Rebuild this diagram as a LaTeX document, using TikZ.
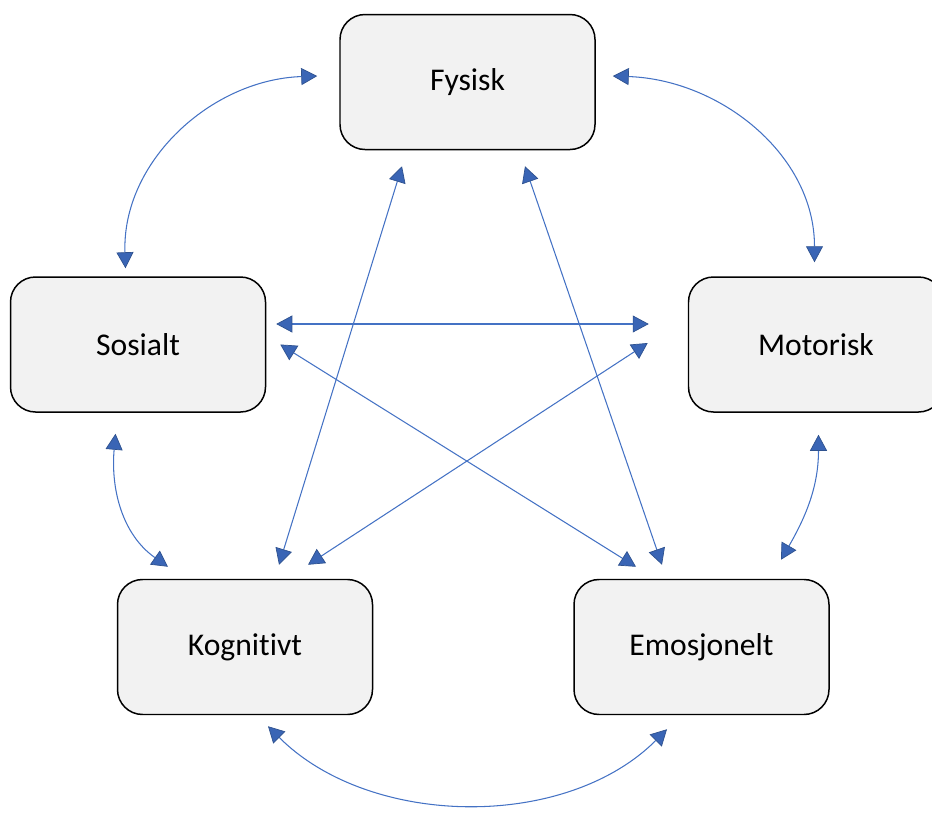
\documentclass[tikz,border=0pt]{standalone}
\usepackage{fontspec}
\setmainfont{Carlito}[Ligatures={NoCommon}]
\usetikzlibrary{arrows.meta,positioning}

\definecolor{linkblue}{HTML}{4472C4}
\definecolor{tipblue}{HTML}{3A65B5}
\definecolor{tipedge}{HTML}{2F528F}
\definecolor{boxgray}{HTML}{F2F2F2}

\tikzset{
  area/.style={rectangle, draw, fill=boxgray, rounded corners=0.5cm, line width=0.85pt,
    minimum width=5.1cm, minimum height=2.7cm, align=center, font=\fontsize{18}{22}\selectfont},
  link/.style={draw=linkblue, line width=0.6pt,
    {Triangle[length=0.32cm,width=0.34cm,fill=tipblue,color=tipedge,line width=0.4pt]}-{Triangle[length=0.32cm,width=0.34cm,fill=tipblue,color=tipedge,line width=0.4pt]}}
}

\begin{document}
\begin{tikzpicture}

\useasboundingbox (0,0) rectangle (18.64,-16.24);

\node (fysisk) [area] at (9.35,-1.64) {Fysisk};

\node (sosialt) [area, below left=2.52cm and 1.46cm of fysisk] {Sosialt};

\node (motorisk) [area, below right=2.52cm and 1.84cm of fysisk] {Motorisk};

\node (kognitivt) [area, below=3.32cm of sosialt, xshift=2.14cm] {Kognitivt};

\node (emosjonelt) [area, right=4cm of kognitivt] {Emosjonelt};

% arrow ends
\coordinate (fs) at ([xshift=-0.44cm,yshift=0.12cm]fysisk.west);
\coordinate (sf) at ([xshift=-0.25cm,yshift=0.16cm]sosialt.north);
\coordinate (fm) at ([xshift=0.34cm,yshift=0.12cm]fysisk.east);
\coordinate (mf) at ([xshift=-0.03cm,yshift=0.28cm]motorisk.north);
\coordinate (sk) at ([xshift=-0.45cm,yshift=-0.42cm]sosialt.south);
\coordinate (ks) at ([xshift=-1.54cm,yshift=0.24cm]kognitivt.north);
\coordinate (me) at ([xshift=0.05cm,yshift=-0.44cm]motorisk.south);
\coordinate (em) at ([xshift=1.59cm,yshift=0.38cm]emosjonelt.north);
\coordinate (ke) at ([xshift=0.46cm,yshift=-0.22cm]kognitivt.south);
\coordinate (ek) at ([xshift=-0.69cm,yshift=-0.28cm]emosjonelt.south);
\coordinate (sm) at ([xshift=0.2cm,yshift=0.41cm]sosialt.east);
\coordinate (ms) at ([xshift=-0.78cm,yshift=0.41cm]motorisk.west);
\coordinate (fk) at ([xshift=-1.31cm,yshift=-0.32cm]fysisk.south);
\coordinate (kf) at ([xshift=0.68cm,yshift=0.28cm]kognitivt.north);
\coordinate (fe) at ([xshift=1.15cm,yshift=-0.32cm]fysisk.south);
\coordinate (ef) at ([xshift=-0.79cm,yshift=0.28cm]emosjonelt.north);
\coordinate (se) at ([xshift=0.28cm]sosialt.east);
\coordinate (es) at ([xshift=-1.31cm,yshift=0.24cm]emosjonelt.north);
\coordinate (mk) at ([xshift=-0.8cm,yshift=0.03cm]motorisk.west);
\coordinate (km) at ([xshift=1.26cm,yshift=0.28cm]kognitivt.north);

% outer ring
\draw[link] (fs) to[out=182,in=92] (sf);
\draw[link] (fm) to[out=-2,in=90] (mf);
\draw[link] (sk) to[out=-95,in=145] (ks);
\draw[link] (me) to[out=-90,in=60] (em);
\draw[link] (ke) to[out=-45,in=-135,looseness=0.92] (ek);

% inner star
\draw[link] (sm) -- (ms);
\draw[link] (fk) -- (kf);
\draw[link] (fe) -- (ef);
\draw[link] (se) -- (es);
\draw[link] (mk) -- (km);

\end{tikzpicture}
\end{document}
